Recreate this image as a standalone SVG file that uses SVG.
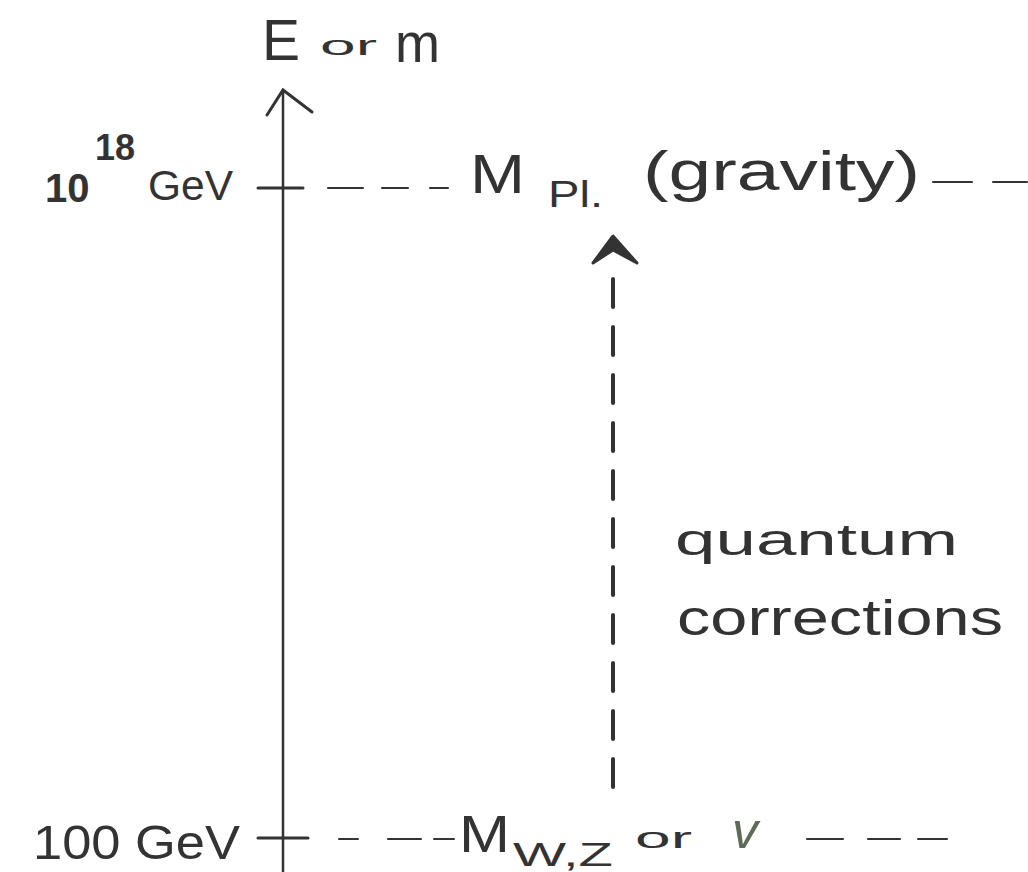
<svg xmlns="http://www.w3.org/2000/svg" width="1028" height="872" viewBox="0 0 1028 872">
<style>
.t{font-family:"Liberation Sans","DejaVu Sans",sans-serif;fill:#333}
.ln{stroke:#333;fill:none;stroke-linecap:round}
</style>
<rect width="1028" height="872" fill="#fff"/>
<g id="connectors">
<line class="ln" x1="283" y1="92" x2="283" y2="872" stroke-width="2.5"/>
<polyline class="ln" points="267,115 283,90 312,112" stroke-width="3"/>
<line class="ln" x1="613" y1="787" x2="613" y2="264" stroke-width="4" stroke-dasharray="28 20"/>
<path d="M613,236 L593,263 L613,250 L637,263 Z" fill="#333" stroke="#333" stroke-width="3" stroke-linejoin="round"/>
</g>
<g id="axis-label">
<text class="t" x="262" y="60" font-size="58" textLength="38" lengthAdjust="spacingAndGlyphs">E</text>
<text class="t" x="320" y="55" font-size="28" textLength="57" lengthAdjust="spacingAndGlyphs">or</text>
<text class="t" x="395" y="62" font-size="56" textLength="45" lengthAdjust="spacingAndGlyphs">m</text>
</g>
<g id="level-planck">
<text class="t" x="45" y="202" font-size="40" font-weight="bold">10</text>
<text class="t" x="95" y="160" font-size="36" font-weight="bold">18</text>
<text class="t" x="148" y="200" font-size="42" textLength="85" lengthAdjust="spacingAndGlyphs">GeV</text>
<line class="ln" x1="258" y1="188" x2="303" y2="188" stroke-width="3"/>
<g class="ln" stroke-width="2">
<line x1="328" y1="188" x2="363" y2="188"/>
<line x1="382" y1="188" x2="408" y2="188"/>
<line x1="430" y1="188" x2="448" y2="188"/>
<line x1="933" y1="182" x2="972" y2="182"/>
<line x1="993" y1="182" x2="1027" y2="182"/>
</g>
<text class="t" x="470" y="193" font-size="56" textLength="55" lengthAdjust="spacingAndGlyphs">M</text>
<text class="t" x="548" y="207" font-size="36" textLength="55" lengthAdjust="spacingAndGlyphs">Pl.</text>
<text class="t" x="643" y="190" font-size="56" textLength="277" lengthAdjust="spacingAndGlyphs">(gravity)</text>
</g>
<g id="quantum-label">
<text class="t" x="675" y="555" font-size="44" textLength="283" lengthAdjust="spacingAndGlyphs">quantum</text>
<text class="t" x="677" y="635" font-size="50" textLength="326" lengthAdjust="spacingAndGlyphs">corrections</text>
</g>
<g id="level-ew">
<text class="t" x="33" y="859" font-size="48" textLength="207" lengthAdjust="spacingAndGlyphs">100 GeV</text>
<line class="ln" x1="258" y1="838" x2="308" y2="838" stroke-width="3"/>
<g class="ln" stroke-width="2">
<line x1="339" y1="839" x2="358" y2="839"/>
<line x1="388" y1="839" x2="421" y2="839"/>
<line x1="434" y1="839" x2="454" y2="839"/>
<line x1="807" y1="839" x2="843" y2="839"/>
<line x1="868" y1="839" x2="900" y2="839"/>
<line x1="918" y1="839" x2="947" y2="839"/>
</g>
<text class="t" x="459" y="852" font-size="52" textLength="51" lengthAdjust="spacingAndGlyphs">M</text>
<text class="t" x="513" y="866" font-size="34" textLength="100" lengthAdjust="spacingAndGlyphs">W,Z</text>
<text class="t" x="635" y="848" font-size="30" textLength="57" lengthAdjust="spacingAndGlyphs">or</text>
<text class="t" x="732" y="848" font-size="52" font-style="italic" style="fill:#5d6b58">v</text>
</g>
</svg>
